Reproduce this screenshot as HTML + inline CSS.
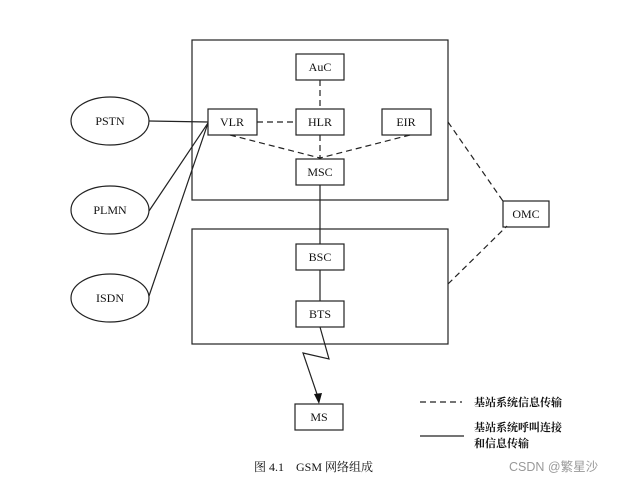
<!DOCTYPE html>
<html><head><meta charset="utf-8"><style>
body{margin:0;background:#fff}
svg text{font-family:"Liberation Serif","Noto Serif CJK SC",serif;font-size:12px;fill:#111}
</style></head><body>
<svg width="624" height="486" viewBox="0 0 624 486" xmlns="http://www.w3.org/2000/svg">
<g stroke="#222" stroke-width="1.2" fill="none">
<rect x="192" y="40" width="256" height="160"/>
<rect x="192" y="229" width="256" height="115"/>
<rect x="296" y="54" width="48" height="26" fill="#fff"/>
<rect x="208" y="109" width="49" height="26" fill="#fff"/>
<rect x="296" y="109" width="48" height="26" fill="#fff"/>
<rect x="382" y="109" width="49" height="26" fill="#fff"/>
<rect x="296" y="159" width="48" height="26" fill="#fff"/>
<rect x="296" y="244" width="48" height="26" fill="#fff"/>
<rect x="296" y="301" width="48" height="26" fill="#fff"/>
<rect x="295" y="404" width="48" height="26" fill="#fff"/>
<rect x="503" y="201" width="46" height="26" fill="#fff"/>
<ellipse cx="110" cy="121" rx="39" ry="24"/>
<ellipse cx="110" cy="210" rx="39" ry="24"/>
<ellipse cx="110" cy="298" rx="39" ry="24"/>
<line x1="149" y1="121" x2="208" y2="122"/>
<line x1="149" y1="211" x2="208" y2="123"/>
<line x1="149" y1="296" x2="208" y2="123"/>
<line x1="320" y1="185" x2="320" y2="244"/>
<line x1="320" y1="270" x2="320" y2="301"/>
<line x1="420" y1="436" x2="464" y2="436"/>
<polyline points="320,327 329,359 303,353 319,400"/>
</g>
<polygon points="319,404 314,394 322,393" fill="#111"/>
<g stroke="#222" stroke-width="1.2" fill="none" stroke-dasharray="6,4">
<line x1="320" y1="80" x2="320" y2="109"/>
<line x1="257" y1="122" x2="296" y2="122"/>
<line x1="320" y1="135" x2="320" y2="159"/>
<line x1="230" y1="135" x2="320" y2="158"/>
<line x1="410" y1="135" x2="320" y2="158"/>
<line x1="448" y1="122" x2="505" y2="204"/>
<line x1="448" y1="284" x2="507" y2="226"/>
<line x1="420" y1="402" x2="462" y2="402"/>
</g>
<g text-anchor="middle">
<text x="320" y="71">AuC</text>
<text x="232" y="126">VLR</text>
<text x="320" y="126">HLR</text>
<text x="406" y="126">EIR</text>
<text x="320" y="176">MSC</text>
<text x="320" y="261">BSC</text>
<text x="320" y="318">BTS</text>
<text x="319" y="421">MS</text>
<text x="526" y="218">OMC</text>
<text x="110" y="125">PSTN</text>
<text x="110" y="214">PLMN</text>
<text x="110" y="302">ISDN</text>
</g>
<text x="474" y="406" style="font-size:11px;font-weight:bold">基站系统信息传输</text>
<text x="474" y="431" style="font-size:11px;font-weight:bold">基站系统呼叫连接</text>
<text x="474" y="447" style="font-size:11px;font-weight:bold">和信息传输</text>
<text x="254" y="471" style="font-size:12px">图 4.1　GSM 网络组成</text>
<text x="509" y="471" style="font-family:'Liberation Sans','Noto Sans CJK SC',sans-serif;font-size:12.5px;fill:#999">CSDN @繁星沙</text>
</svg>
</body></html>
